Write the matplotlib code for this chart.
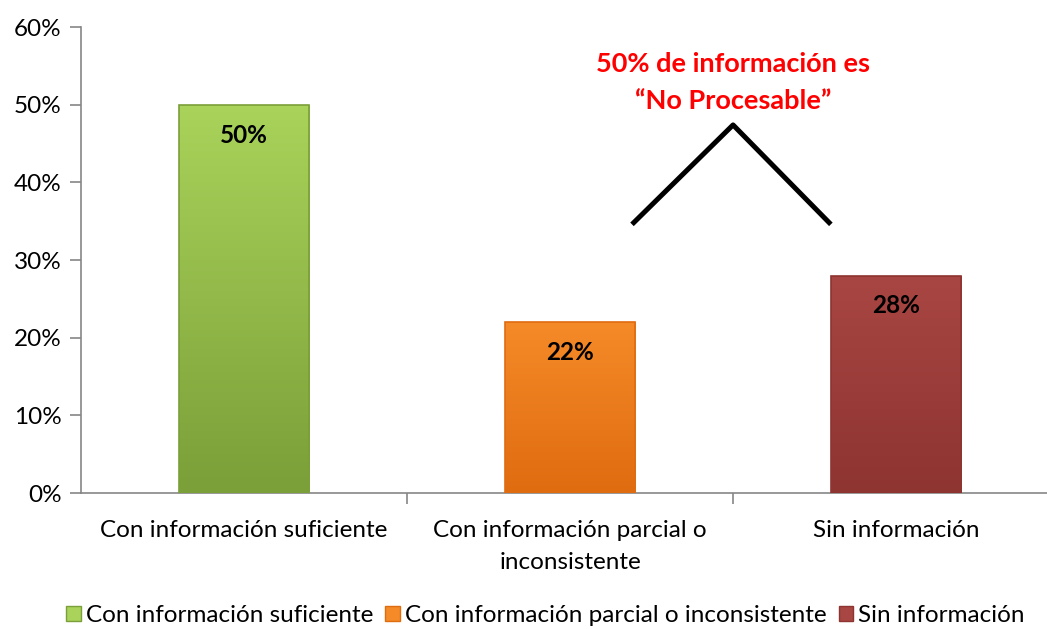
import numpy as np
import matplotlib
matplotlib.use('Agg')
import matplotlib.pyplot as plt
from matplotlib.colors import LinearSegmentedColormap
from matplotlib.patches import Patch

plt.rcParams['font.family'] = ['Lato', 'DejaVu Sans']

categories = ['Con información suficiente', 'Con información parcial o\ninconsistente', 'Sin información']
legend_labels = ['Con información suficiente', 'Con información parcial o inconsistente', 'Sin información']
values = [50, 22, 28]
value_labels = ['50%', '22%', '28%']
yticks = [0, 10, 20, 30, 40, 50, 60]
ytick_labels = ['0%', '10%', '20%', '30%', '40%', '50%', '60%']
# top / bottom colours for the gradient of each bar
colors_top = ['#a9d35a', '#f58a28', '#a84643']
colors_bot = ['#7b9f39', '#e06c10', '#8e3431']
note = '50% de información es\n\u201cNo Procesable\u201d'
chevron_x = [1.19, 1.5, 1.8]
chevron_y = [34.6, 47.4, 34.6]

fig = plt.figure(figsize=(10.47, 6.29), dpi=100)
ax = fig.add_axes([0.0774, 0.216, 0.9226, 0.741])

x = np.arange(len(values))
bars = ax.bar(x, values, width=0.4, color=colors_top, edgecolor='none', zorder=2)

ax.set_xlim(-0.5, 2.463)
ax.set_ylim(0, 60)

# gradient fill clipped to each bar
for b, ct, cb in zip(bars, colors_top, colors_bot):
    x0, y0 = b.get_x(), b.get_y()
    w, h = b.get_width(), b.get_height()
    cmap = LinearSegmentedColormap.from_list('g', [cb, ct])
    grad = np.linspace(0, 1, 100).reshape(-1, 1)
    im = ax.imshow(grad, cmap=cmap, origin='lower', aspect='auto',
                   extent=[x0, x0 + w, y0, y0 + h], zorder=3)
    im.set_clip_path(b)
    ax.bar(b.get_x() + w / 2, h, width=w, color='none', edgecolor=cb, linewidth=1.2, zorder=4)

for xi, v, lab in zip(x, values, value_labels):
    ax.text(xi, v - 3.9, lab, ha='center', va='center', fontsize=17.5, fontweight='bold', color='black', zorder=5)

ax.set_yticks(yticks)
ax.set_yticklabels(ytick_labels, fontsize=17.5)
ax.set_xticks(x)
ax.set_xticklabels(categories, fontsize=17.5, linespacing=1.7)
ax.set_xticks([0.5, 1.5], minor=True)
ax.tick_params(axis='x', which='major', length=0, pad=19)
ax.tick_params(axis='x', which='minor', length=8, color='#868686', width=1.2)
ax.tick_params(axis='y', length=8, color='#868686', width=1.2, pad=6)
ax.set_xlim(-0.5, 2.463)

for s in ['top', 'right']:
    ax.spines[s].set_visible(False)
for s in ['left', 'bottom']:
    ax.spines[s].set_color('#868686')
    ax.spines[s].set_linewidth(1.2)

ax.plot(chevron_x, chevron_y, color='black', linewidth=3.6, solid_capstyle='butt', zorder=5)
ax.text(1.5, 52.85, note, ha='center', va='center', fontsize=19.5, fontweight='bold',
        color='#ff0000', linespacing=1.65)

handles = [Patch(facecolor=ct, edgecolor=cb) for ct, cb in zip(colors_top, colors_bot)]
fig.legend(handles, legend_labels, loc='lower center', bbox_to_anchor=(0.521, -0.03), ncol=3,
           frameon=False, fontsize=17.5, handlelength=0.6, handleheight=0.6,
           handletextpad=0.2, columnspacing=0.5)

fig.savefig('out.png', dpi=100)
